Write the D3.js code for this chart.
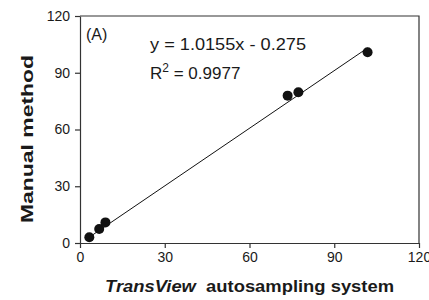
<html>
<head>
<style type="text/css">
	body { margin: 0; background: #fff; }
	text { font-family: "Liberation Sans", Arial, sans-serif; fill: #1a1a1a; }
	.axis path, .axis line { stroke: #333; stroke-width: 1.2px; }
	.axis text { font-size: 14px; }
</style>
<script src="https://d3js.org/d3.v7.min.js"></script>
</head>
<body>
<script type="text/javascript">
	// values
	var transview = [3.3, 6.8, 9.0, 73.5, 77.3, 101.8];
	var manual = [3.0, 7.4, 10.9, 77.9, 79.7, 100.8];
	var ticks = [0, 30, 60, 90, 120];
	var slope = 1.0155, intercept = -0.275;

	var width = 429, height = 300;
	var plot_left = 80, plot_right = 419, plot_top = 16, plot_bottom = 243;

	var x_scale = d3.scaleLinear().domain([0, 120]).range([plot_left, plot_right]);
	var y_scale = d3.scaleLinear().domain([0, 120]).range([plot_bottom, plot_top]);

	var svg = d3.select('body').append('svg')
		.attr('width', width)
		.attr('height', height);

	// frame on top and right
	svg.append('path')
		.attr('d', 'M' + plot_left + ',' + plot_top + 'H' + plot_right + 'V' + plot_bottom)
		.attr('fill', 'none')
		.attr('stroke', '#333')
		.attr('stroke-width', 1.2);

	svg.append('g')
		.attr('class', 'axis')
		.attr('transform', 'translate(0,' + plot_bottom + ')')
		.call(d3.axisBottom(x_scale).tickValues(ticks).tickSize(5).tickPadding(4).tickSizeOuter(0));

	svg.append('g')
		.attr('class', 'axis')
		.attr('transform', 'translate(' + plot_left + ',0)')
		.call(d3.axisLeft(y_scale).tickValues(ticks).tickSize(5).tickPadding(5).tickSizeOuter(0));

	// fit line over the range of the data
	var xr = d3.extent(transview);
	svg.append('line')
		.attr('x1', x_scale(xr[0])).attr('y1', y_scale(slope * xr[0] + intercept))
		.attr('x2', x_scale(xr[1])).attr('y2', y_scale(slope * xr[1] + intercept))
		.attr('stroke', '#111')
		.attr('stroke-width', 1);

	svg.selectAll('circle')
		.data(transview)
		.enter()
		.append('circle')
		.attr('cx', function(d) { return x_scale(d); })
		.attr('cy', function(d, i) { return y_scale(manual[i]); })
		.attr('r', 5)
		.attr('fill', '#111');

	svg.append('text').text('(A)')
		.attr('x', 86).attr('y', 40)
		.style('font-size', '16px');

	svg.append('text').text('y = 1.0155x - 0.275')
		.attr('x', 150).attr('y', 50)
		.attr('textLength', 156).attr('lengthAdjust', 'spacingAndGlyphs')
		.style('font-size', '17px');

	var r2 = svg.append('text')
		.attr('x', 150).attr('y', 79)
		.style('font-size', '17px');
	r2.append('tspan').text('R');
	r2.append('tspan').text('2').attr('dy', -7).style('font-size', '12px');
	r2.append('tspan').text(' = 0.9977').attr('dy', 7);

	var xt = svg.append('text')
		.attr('x', 105).attr('y', 292)
		.attr('textLength', 289).attr('lengthAdjust', 'spacingAndGlyphs')
		.style('font-size', '17px')
		.style('font-weight', 'bold');
	xt.append('tspan').text('TransView').style('font-style', 'italic');
	xt.append('tspan').text('\u00a0 autosampling system');

	svg.append('text').text('Manual method')
		.attr('transform', 'translate(33,223) rotate(-90)')
		.attr('textLength', 168).attr('lengthAdjust', 'spacingAndGlyphs')
		.style('font-size', '17px')
		.style('font-weight', 'bold');
</script>
</body>
</html>
